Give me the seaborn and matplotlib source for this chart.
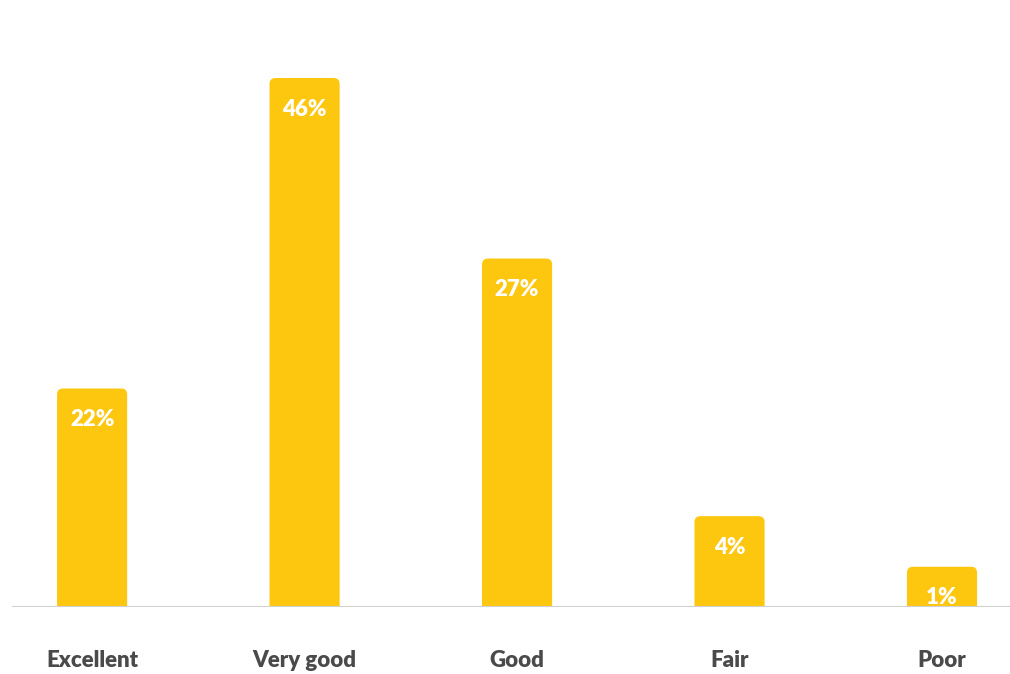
import numpy as np
import pandas as pd
import seaborn as sns
import matplotlib.pyplot as plt
from matplotlib.patches import FancyBboxPatch

categories = ['Excellent', 'Very good', 'Good', 'Fair', 'Poor']
bar_values = [19.0, 46.0, 30.3, 7.9, 3.5]   # bar heights as drawn
pct_labels = ['22%', '46%', '27%', '4%', '1%']

df = pd.DataFrame({'rating': categories, 'value': bar_values})

sns.set_theme(style='white')
plt.rcParams['font.family'] = ['Lato', 'DejaVu Sans']

fig = plt.figure(figsize=(10.1, 6.74), dpi=100)
ax = fig.add_axes([12 / 1010, 67 / 674, 998 / 1010, 575 / 674])

bar_color = '#FEC70F'
sns.barplot(data=df, x='rating', y='value', color=bar_color, width=0.33,
            saturation=1, ax=ax)

ax.set_xlim(-0.377, 4.32)
ax.set_ylim(0, 50)

# rounded top corners
px_x = (4.32 + 0.377) / 998
px_y = 50 / 575
r = 6 * px_x
for p in list(ax.patches):
    x, y = p.get_x(), p.get_y()
    w, h = p.get_width(), p.get_height()
    p.remove()
    ext = 10 * px_y
    fb = FancyBboxPatch((x + r, y - ext), w - 2 * r, h + ext - r / px_x * px_y,
                        boxstyle=f'round,pad={r}', mutation_aspect=px_y / px_x,
                        facecolor=bar_color, edgecolor='none', clip_on=True,
                        zorder=2)
    ax.add_patch(fb)
    ax.text(x + w / 2, h - 31 * px_y, pct_labels[len(ax.texts)],
            ha='center', va='center', color='white', fontsize=16,
            fontweight='heavy')

ax.axhline(0, color='#d0d0d0', lw=1.5, zorder=3)
for s in ax.spines.values():
    s.set_visible(False)
ax.set_yticks([])
ax.set_xlabel('')
ax.set_ylabel('')
ax.tick_params(axis='x', length=0, pad=31, labelsize=16, labelcolor='#4a4a4a')
for t in ax.get_xticklabels():
    t.set_fontweight('heavy')

fig.savefig('out.png', dpi=100)
